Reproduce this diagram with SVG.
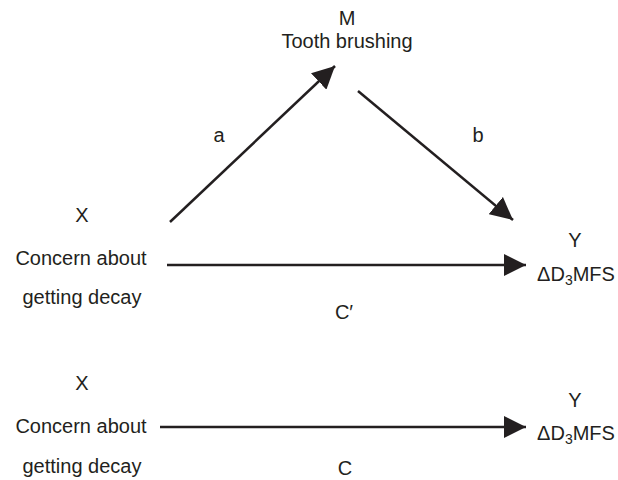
<svg xmlns="http://www.w3.org/2000/svg" width="618" height="480" viewBox="0 0 618 480">
<style>
text{font-family:"Liberation Sans",Arial,sans-serif;font-size:20px;fill:#231f20;text-anchor:middle}
.c{stroke:#231f20;stroke-width:2.5;fill:none}
</style>
<defs>
<marker id="ah" viewBox="0 0 10 10" refX="10" refY="5" markerWidth="9" markerHeight="9" markerUnits="strokeWidth" orient="auto">
<path d="M0,0 L10,5 L0,10 z" fill="#231f20"/>
</marker>
</defs>
<rect width="618" height="480" fill="#fff"/>
<g id="connectors">
<line class="c" x1="170" y1="222" x2="335" y2="66" marker-end="url(#ah)"/>
<line class="c" x1="358" y1="91" x2="513" y2="220" marker-end="url(#ah)"/>
<line class="c" x1="167" y1="265" x2="526" y2="265" marker-end="url(#ah)"/>
<line class="c" x1="160" y1="427" x2="526" y2="427" marker-end="url(#ah)"/>
</g>
<g id="labels">
<text x="219" y="142">a</text>
<text x="478" y="142">b</text>
<text x="344" y="319">C′</text>
<text x="345" y="475">C</text>
</g>
<g id="nodeM">
<text x="347" y="25">M</text>
<text x="347" y="48">Tooth brushing</text>
</g>
<g id="nodeX1">
<text x="82" y="222">X</text>
<text x="81" y="265">Concern about</text>
<text x="82" y="304">getting decay</text>
</g>
<g id="nodeY1">
<text x="575" y="247">Y</text>
<text x="576" y="281">ΔD<tspan font-size="14" dy="4">3</tspan><tspan dy="-4">MFS</tspan></text>
</g>
<g id="nodeX2">
<text x="82" y="390">X</text>
<text x="81" y="433">Concern about</text>
<text x="82" y="473">getting decay</text>
</g>
<g id="nodeY2">
<text x="575" y="407">Y</text>
<text x="576" y="440">ΔD<tspan font-size="14" dy="4">3</tspan><tspan dy="-4">MFS</tspan></text>
</g>
</svg>
